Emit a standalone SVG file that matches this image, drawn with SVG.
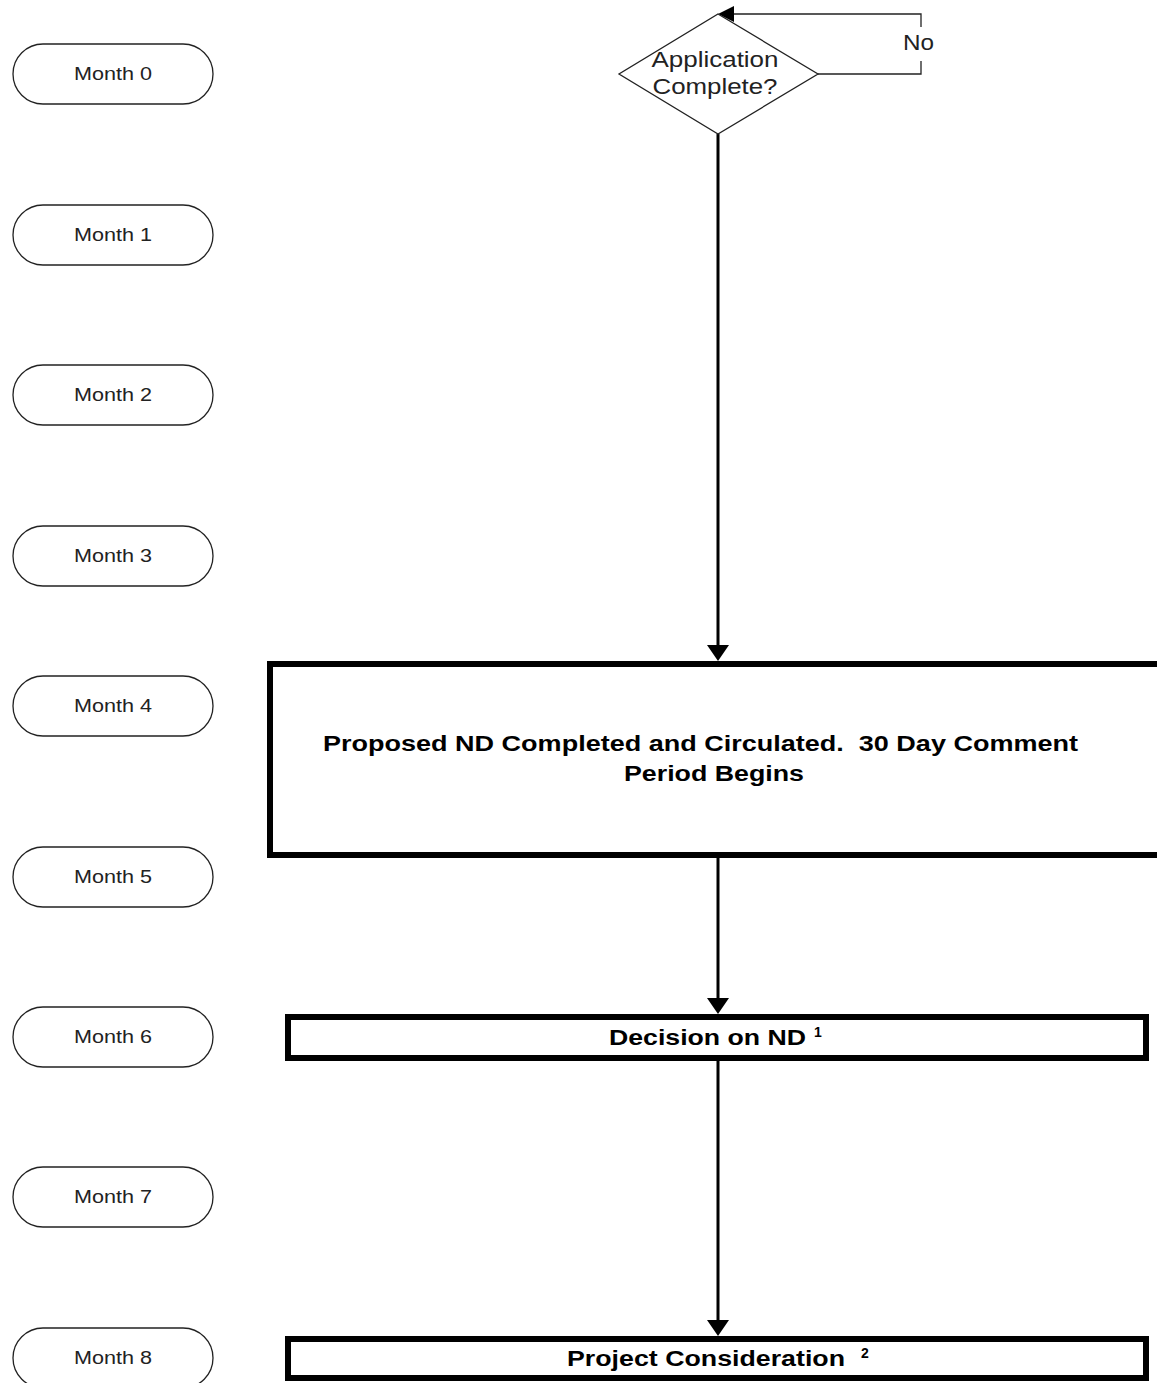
<svg xmlns="http://www.w3.org/2000/svg" width="1157" height="1383" viewBox="0 0 1157 1383">
<style>
  .pill { fill: #fff; stroke: #222; stroke-width: 1.3; }
  .mlabel { font-family: "Liberation Sans", Arial, sans-serif; font-size: 18px; fill: #222; text-anchor: middle; }
  .box { fill: #fff; stroke: #000; stroke-width: 6; }
  .btext { font-family: "Liberation Sans", Arial, sans-serif; font-size: 22px; font-weight: bold; fill: #000; }
  .sup { font-family: "Liberation Sans", Arial, sans-serif; font-size: 14px; font-weight: bold; fill: #000; }
  .dtext { font-family: "Liberation Sans", Arial, sans-serif; font-size: 22px; fill: #222; }
  .main { stroke: #000; stroke-width: 3; fill: none; }
  .thin { stroke: #222; stroke-width: 1.3; fill: none; }
  .head { fill: #000; }
</style>
<rect width="1157" height="1383" fill="#fff"/>

<g id="month0"><rect class="pill" x="13" y="44" width="200" height="60" rx="30"/><text class="mlabel" x="113" y="80" textLength="78" lengthAdjust="spacingAndGlyphs">Month 0</text></g>
<g id="month1"><rect class="pill" x="13" y="205" width="200" height="60" rx="30"/><text class="mlabel" x="113" y="241" textLength="78" lengthAdjust="spacingAndGlyphs">Month 1</text></g>
<g id="month2"><rect class="pill" x="13" y="365" width="200" height="60" rx="30"/><text class="mlabel" x="113" y="401" textLength="78" lengthAdjust="spacingAndGlyphs">Month 2</text></g>
<g id="month3"><rect class="pill" x="13" y="526" width="200" height="60" rx="30"/><text class="mlabel" x="113" y="562" textLength="78" lengthAdjust="spacingAndGlyphs">Month 3</text></g>
<g id="month4"><rect class="pill" x="13" y="676" width="200" height="60" rx="30"/><text class="mlabel" x="113" y="712" textLength="78" lengthAdjust="spacingAndGlyphs">Month 4</text></g>
<g id="month5"><rect class="pill" x="13" y="847" width="200" height="60" rx="30"/><text class="mlabel" x="113" y="883" textLength="78" lengthAdjust="spacingAndGlyphs">Month 5</text></g>
<g id="month6"><rect class="pill" x="13" y="1007" width="200" height="60" rx="30"/><text class="mlabel" x="113" y="1043" textLength="78" lengthAdjust="spacingAndGlyphs">Month 6</text></g>
<g id="month7"><rect class="pill" x="13" y="1167" width="200" height="60" rx="30"/><text class="mlabel" x="113" y="1203" textLength="78" lengthAdjust="spacingAndGlyphs">Month 7</text></g>
<g id="month8"><rect class="pill" x="13" y="1328" width="200" height="60" rx="30"/><text class="mlabel" x="113" y="1364" textLength="78" lengthAdjust="spacingAndGlyphs">Month 8</text></g>

<g id="connectors">
  <path class="main" d="M718 134 V647"/>
  <polygon class="head" points="707,645 729,645 718,661"/>
  <path class="main" d="M718 858 V1000"/>
  <polygon class="head" points="707,998 729,998 718,1014"/>
  <path class="main" d="M718 1061 V1322"/>
  <polygon class="head" points="707,1320 729,1320 718,1336"/>
  <path class="thin" d="M818 74 H921 V61"/>
  <path class="thin" d="M921 27 V14 H732"/>
  <polygon class="head" points="718,14 734,6 734,22"/>
  <text class="dtext" x="903" y="50" font-size="20" textLength="31" lengthAdjust="spacingAndGlyphs">No</text>
</g>

<g id="decision">
  <polygon fill="#fff" stroke="#222" stroke-width="1.3" points="718,14 818,74 718,134 619,74"/>
  <text class="dtext" x="715" y="67" text-anchor="middle" textLength="127" lengthAdjust="spacingAndGlyphs">Application</text>
  <text class="dtext" x="715" y="94" text-anchor="middle" textLength="125" lengthAdjust="spacingAndGlyphs">Complete?</text>
</g>

<g id="proposed">
  <rect class="box" x="270" y="664" width="900" height="191"/>
  <text class="btext" x="323" y="751" textLength="755" lengthAdjust="spacingAndGlyphs">Proposed ND Completed and Circulated.&#160; 30 Day Comment</text>
  <text class="btext" x="624" y="781" textLength="180" lengthAdjust="spacingAndGlyphs">Period Begins</text>
</g>

<g id="decisionND">
  <rect class="box" x="288" y="1017" width="858" height="41"/>
  <text class="btext" x="609" y="1045" textLength="197" lengthAdjust="spacingAndGlyphs">Decision on ND</text>
  <text class="sup" x="814" y="1037">1</text>
</g>

<g id="project">
  <rect class="box" x="288" y="1339" width="858" height="39"/>
  <text class="btext" x="567" y="1366" textLength="278" lengthAdjust="spacingAndGlyphs">Project Consideration</text>
  <text class="sup" x="861" y="1358">2</text>
</g>
</svg>
